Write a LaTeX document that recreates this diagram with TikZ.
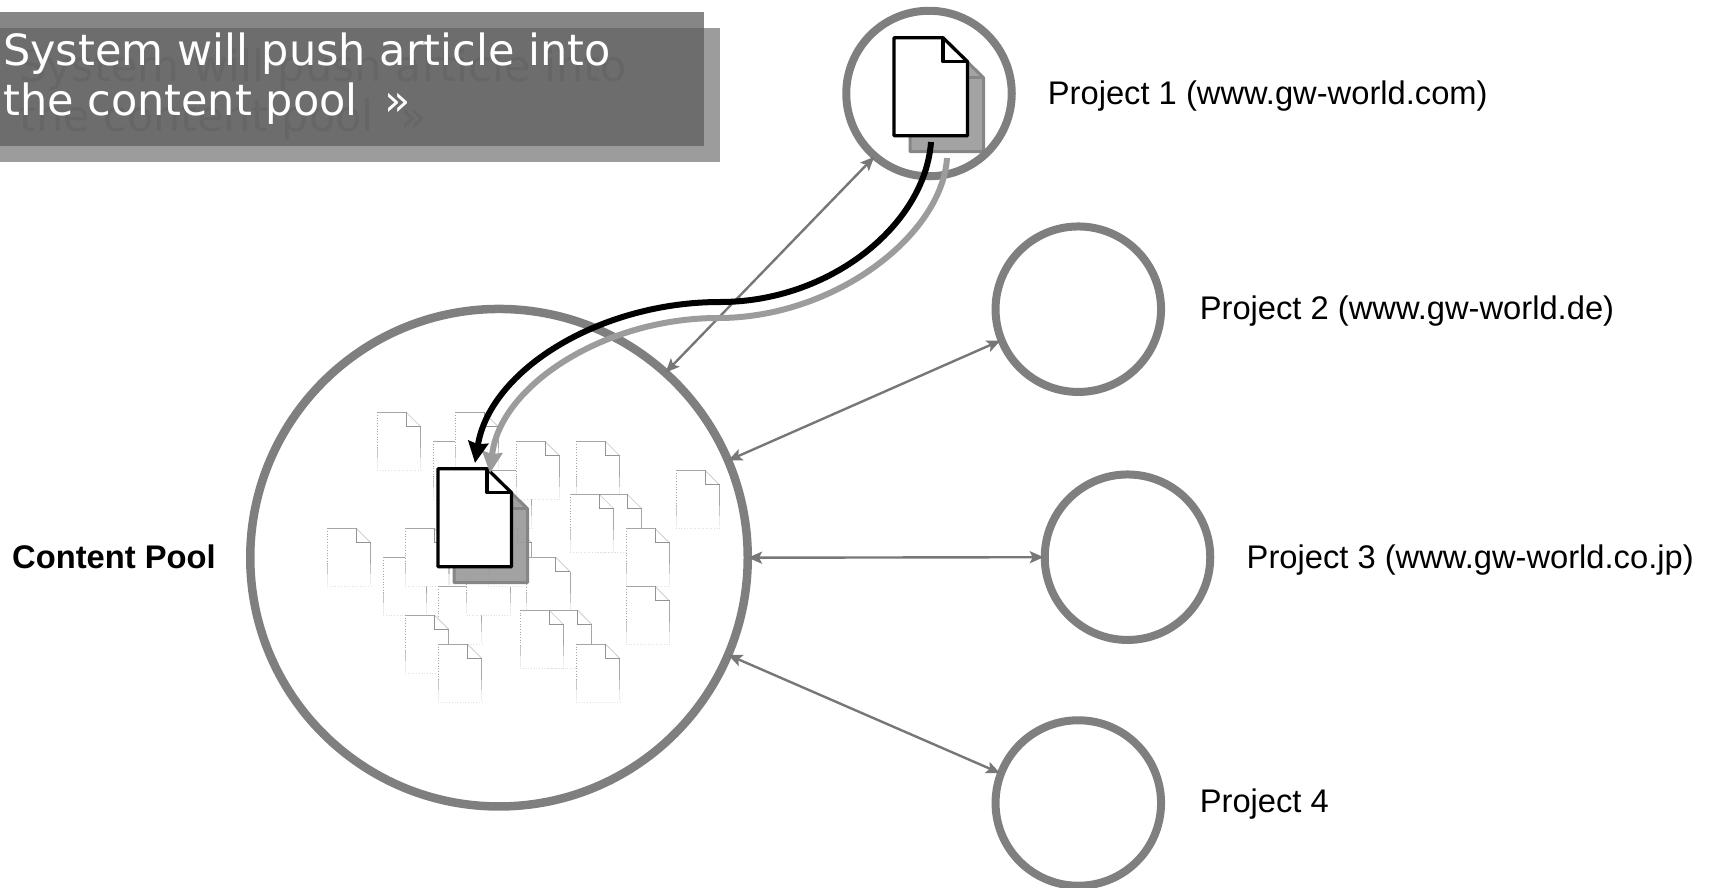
\documentclass[tikz,border=0pt]{standalone}
\usepackage{fontspec}
\setmainfont{Liberation Sans}
\newfontfamily\headfont{DejaVu Sans}
\usetikzlibrary{arrows.meta}
\definecolor{ring}{HTML}{7F7F7F}
\definecolor{link}{HTML}{777777}
\definecolor{docgray}{HTML}{9C9C9C}
\definecolor{shadeline}{HTML}{868686}
\definecolor{panel}{HTML}{5F5F5F}
\definecolor{ghosttext}{HTML}{7C7C7C}
\tikzset{
  x=1pt,y=-1pt,
  hub/.style={circle,draw=ring,line width=8pt,inner sep=0pt,minimum size=165.5pt},
  poolring/.style={circle,draw=ring,line width=8.5pt,inner sep=0pt,minimum size=497.5pt},
  linkline/.style={draw=link,line width=2.4pt,shorten <=-4pt,shorten >=-3pt,{Stealth[length=14pt,width=12pt,inset=3pt]}-{Stealth[length=14pt,width=12pt,inset=3pt]}},
  projlabel/.style={anchor=base west,inner sep=0pt,font=\fontsize{32.7}{38}\selectfont},
  headtext/.style={anchor=north west,inner sep=0pt,align=left,font=\headfont\fontsize{43}{50}\selectfont},
  pics/bigdoc/.style={code={
    \draw[#1] (0,0) -- (49,0) -- (73.5,24) -- (73.5,98) -- (0,98) -- cycle;
    \draw[#1,fill=none] (49,0) -- (49,24) -- (73.5,24);
  }},
  frontdoc/.style={draw=black,fill=white,line width=3.3pt,line join=round},
  backdoc/.style={draw=shadeline,fill=docgray,line width=3pt,line join=round,fill opacity=.93},
  pics/smalldoc/.style={code={
    \fill[white] (0,0) -- (29,0) -- (43.5,14.5) -- (43.5,58) -- (0,58) -- cycle;
    \draw[gray!70,line width=.7pt] (0,0) -- (29,0);
    \draw[gray!45,line width=.7pt] (29,0) -- (43.5,14.5);
    \draw[gray!85,line width=.7pt] (29,0) -- (29,14.5) -- (43.5,14.5);
    \draw[gray!70,line width=.7pt,dotted] (0,0) -- (0,36);
    \draw[gray!70,line width=.7pt] (43.5,14.5) -- (43.5,36);
    \draw[gray!45,line width=.7pt] (0,36) -- (0,46);
    \draw[gray!45,line width=.7pt] (43.5,36) -- (43.5,46);
    \draw[gray!15,line width=.7pt] (0,46) -- (0,57);
    \draw[gray!15,line width=.7pt] (43.5,46) -- (43.5,57);
    \draw[gray!25,line width=.7pt,dotted] (0,58) -- (43.5,58);
  }}
}
\begin{document}
\begin{tikzpicture}
\useasboundingbox (0,0) rectangle (1713,887);
% header
\fill[docgray] (0,28) rectangle (720,162);
\node[headtext,text=ghosttext] (headshadow) at (19,49) {System will push article into\\the content pool\ \ »};
\fill[panel,fill opacity=.758] (0,12) rectangle (704,146);
\node[headtext,text=white] (headfront) at (3,33) {System will push article into\\the content pool\ \ »};
% content pool documents
\foreach \zx/\zy in {232/67,400/154,465/67,565/241,648/154,829/154,1128/241,895/313,811/313,82/415,250/502,316/415,447/415,415/589,500/502,565/415,978/415,680/502,978/589,745/660,660/660,316/675,415/762,829/762}{
  \pgfmathsetmacro\gx{300+\zx/3}
  \pgfmathsetmacro\gy{390+\zy/3}
  \pic at (\gx,\gy) {smalldoc};
}
% circles
\node[poolring] (contentpool) at (499,557.7) {};
\pic at (910,53.7) {bigdoc=backdoc};
\pic at (454,484.7) {bigdoc=backdoc};
\node[hub] (p1) at (929,93.5) {};
\node[hub] (p2) at (1078.3,309.2) {};
\node[hub] (p3) at (1127.5,557.2) {};
\node[hub] (p4) at (1078.3,803) {};
\pic at (894,37.7) {bigdoc=frontdoc};
\pic at (438,468.7) {bigdoc=frontdoc};
% links
\draw[linkline] (contentpool.48.3) -- (p1.229);
\draw[linkline] (contentpool.23.7) -- (p2.202.9);
\draw[linkline] (contentpool.0) -- (p3.180);
\draw[linkline] (contentpool.-23.5) -- (p4.159.2);
% push curves
\coordinate (greystart) at (947,158);
\coordinate (greymid) at (718,318);
\coordinate (greyend) at (490,473);
\coordinate (blackstart) at (931,142);
\coordinate (blackmid) at (720,302);
\coordinate (blackend) at (475,463);
\draw[docgray,line width=6pt,-{Stealth[length=21pt,width=20pt,inset=2pt]}] (greystart) .. controls (942,235) and (835,318) .. (greymid) .. controls (605,318) and (500,385) .. (greyend);
\draw[black,line width=6pt,-{Stealth[length=21pt,width=20pt,inset=2pt]}] (blackstart) .. controls (925,225) and (830,302) .. (blackmid) .. controls (600,302) and (490,370) .. (blackend);
% labels
\node[projlabel] (l1) at (1047.7,104.3) {Project 1 (www.gw-world.com)};
\node[projlabel] (l2) at (1199.6,319.5) {Project 2 (www.gw-world.de)};
\node[projlabel] (l3) at (1246.5,568) {Project 3 (www.gw-world.co.jp)};
\node[projlabel] (l4) at (1199.6,812.5) {Project 4};
\node[projlabel,font=\fontsize{32.7}{38}\selectfont\bfseries] (lpool) at (12,568.5) {Content Pool};
\end{tikzpicture}
\end{document}
